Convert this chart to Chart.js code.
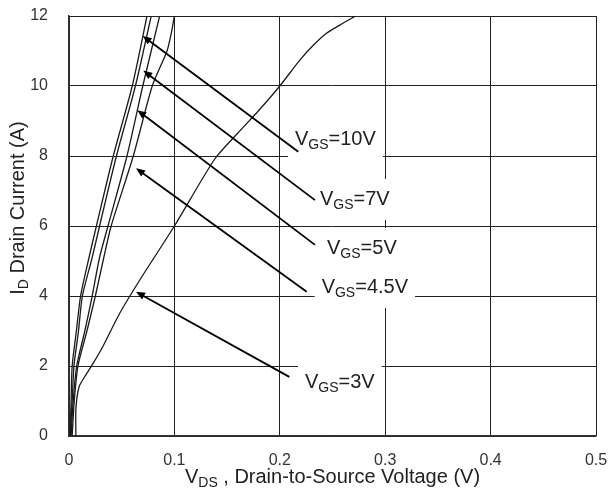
<!DOCTYPE html>
<html><head><meta charset="utf-8">
<script src="https://cdn.jsdelivr.net/npm/chart.js@4/dist/chart.umd.min.js"></script>
<style>html,body{margin:0;padding:0;background:#fff}#wrap{width:612px;height:498px}</style>
</head><body><div id="wrap"><canvas id="c" width="612" height="498"></canvas></div>
<script>
// ---- data (VDS in V, ID in A) ----
const vgsNames = ['10V', '7V', '5V', '4.5V', '3V'];
const vds_10V = [0.001, 0.002, 0.003, 0.007, 0.011, 0.019, 0.026, 0.042, 0.060, 0.074];
const id_10V  = [0, 1, 2, 3, 4, 5.1, 6, 8, 10, 12];
const vds_7V  = [0.001, 0.003, 0.0047, 0.009, 0.0127, 0.022, 0.029, 0.045, 0.063, 0.078];
const id_7V   = [0, 1, 2, 3, 4, 5.1, 6, 8, 10, 12];
const vds_5V  = [0.002, 0.004, 0.0073, 0.015, 0.022, 0.029, 0.037, 0.055, 0.070, 0.086];
const id_5V   = [0, 1, 2, 3, 4, 5.1, 6, 8, 10, 12];
const vds_45V = [0.003, 0.005, 0.0085, 0.017, 0.025, 0.033, 0.040, 0.061, 0.079, 0.093, 0.097, 0.100];
const id_45V  = [0, 1, 2, 3, 4, 5.1, 6, 8, 10, 11, 11.5, 12];
const vds_3V  = [0.0065, 0.0066, 0.0095, 0.015, 0.022, 0.032, 0.048, 0.067, 0.100, 0.138, 0.160, 0.180, 0.200, 0.219, 0.232, 0.244, 0.257, 0.272];
const id_3V   = [0, 0.8, 1.4, 1.7, 2.03, 2.55, 3.5, 4.45, 6, 7.9, 8.65, 9.3, 10, 10.74, 11.17, 11.5, 11.74, 12];
const xTicks = [0, 0.1, 0.2, 0.3, 0.4, 0.5];
const yTicks = [0, 2, 4, 6, 8, 10, 12];

// annotation anchors in data units (arrow tip, arrow tail, label baseline start)
const tipX  = [0.0699, 0.0705, 0.0648, 0.0636, 0.0636];
const tipY  = [11.43, 10.44, 9.31, 7.65, 4.12];
const tailX = [0.2175, 0.2334, 0.2334, 0.2255, 0.209];
const tailY = [8.12, 6.74, 5.46, 4.12, 1.69];
const lblX  = [0.2144, 0.2381, 0.2448, 0.2397, 0.2239];
const lblY  = [8.31, 6.6, 5.2, 4.086, 1.371];

const seriesX = [vds_10V, vds_7V, vds_5V, vds_45V, vds_3V];
const seriesY = [id_10V, id_7V, id_5V, id_45V, id_3V];

const FONT = "'Liberation Sans', Arial, sans-serif";
const TXT = '#222';

function pts(xs, ys) { return xs.map((x, i) => ({x: x, y: ys[i]})); }

function drawSubText(ctx, x, y, parts) {
  let cx = x;
  for (const [t, s, dy] of parts) {
    ctx.font = s + 'px ' + FONT;
    ctx.fillText(t, cx, y + dy);
    cx += ctx.measureText(t).width;
  }
  return cx - x;
}
function measureParts(ctx, parts) {
  let w = 0;
  for (const [t, s] of parts) { ctx.font = s + 'px ' + FONT; w += ctx.measureText(t).width; }
  return w;
}
function labelParts(i) { return [['V', 20, 0], ['GS', 14, 4], ['=' + vgsNames[i], 20, 0]]; }

const annot = {
  id: 'annot',
  beforeDatasetsDraw(chart) {
    const {ctx, scales: {x, y}} = chart;
    ctx.save();
    ctx.fillStyle = '#fff';
    for (let i = 0; i < vgsNames.length; i++) {
      const px = x.getPixelForValue(lblX[i]), py = y.getPixelForValue(lblY[i]);
      const w = measureParts(ctx, labelParts(i));
      ctx.fillRect(px - 7, py - 26, w + 14, 41);
    }
    ctx.restore();
  },
  afterDatasetsDraw(chart) {
    const {ctx, scales: {x, y}} = chart;
    ctx.save();
    for (let i = 0; i < vgsNames.length; i++) {
      const x1 = x.getPixelForValue(tailX[i]), y1 = y.getPixelForValue(tailY[i]);
      const x2 = x.getPixelForValue(tipX[i]), y2 = y.getPixelForValue(tipY[i]);
      const a = Math.atan2(y2 - y1, x2 - x1);
      const L = 9, W = 3.8;
      ctx.strokeStyle = '#000'; ctx.lineWidth = 1.8;
      ctx.beginPath(); ctx.moveTo(x1, y1);
      ctx.lineTo(x2 - Math.cos(a) * (L - 1), y2 - Math.sin(a) * (L - 1)); ctx.stroke();
      ctx.fillStyle = '#000';
      ctx.beginPath();
      ctx.moveTo(x2, y2);
      ctx.lineTo(x2 - Math.cos(a) * L - Math.sin(a) * W, y2 - Math.sin(a) * L + Math.cos(a) * W);
      ctx.lineTo(x2 - Math.cos(a) * L + Math.sin(a) * W, y2 - Math.sin(a) * L - Math.cos(a) * W);
      ctx.closePath(); ctx.fill();
      ctx.fillStyle = TXT; ctx.textBaseline = 'alphabetic'; ctx.textAlign = 'left';
      drawSubText(ctx, x.getPixelForValue(lblX[i]), y.getPixelForValue(lblY[i]), labelParts(i));
    }
    ctx.restore();
  },
  afterDraw(chart) {
    const {ctx, chartArea} = chart;
    ctx.save();
    ctx.fillStyle = TXT; ctx.textBaseline = 'alphabetic'; ctx.textAlign = 'left';
    const xp = [['V', 20, 0], ['DS', 14, 4], [' , Drain-to-Source Voltage (V)', 20, 0]];
    const xw = measureParts(ctx, xp);
    const xc = (chartArea.left + chartArea.right) / 2;
    drawSubText(ctx, xc - xw / 2, 483, xp);
    const yp = [['I', 20, 0], ['D', 14, 4], [' Drain Current (A)', 20, 0]];
    const yw = measureParts(ctx, yp);
    ctx.translate(24, 208);
    ctx.rotate(-Math.PI / 2);
    drawSubText(ctx, -yw / 2, 0, yp);
    ctx.restore();
  }
};

new Chart(document.getElementById('c'), {
  type: 'scatter',
  data: {
    datasets: seriesX.map((xs, i) => ({
      label: 'VGS=' + vgsNames[i],
      data: pts(xs, seriesY[i]),
      showLine: true,
      borderColor: '#1a1a1a',
      borderWidth: 1.3,
      pointRadius: 0,
      tension: 0.25,
      fill: false
    }))
  },
  options: {
    responsive: false,
    animation: false,
    events: [],
    layout: {padding: {top: 16, right: 16, left: 0, bottom: 0}},
    plugins: {legend: {display: false}, tooltip: {enabled: false}},
    scales: {
      x: {
        type: 'linear', min: 0, max: 0.5,
        afterBuildTicks(s) { s.ticks = xTicks.map(v => ({value: v})); },
        afterFit(s) { s.height = 62; s.paddingLeft = 0; s.paddingRight = 0; s.paddingTop = 0; s.paddingBottom = 0; },
        grid: {color: '#222', lineWidth: 1, drawTicks: false},
        border: {color: '#333', width: 1.5},
        ticks: {padding: 15, color: '#333', font: {family: FONT, size: 16}, maxRotation: 0,
                callback: v => String(v)}
      },
      y: {
        type: 'linear', min: 0, max: 12,
        afterBuildTicks(s) { s.ticks = yTicks.map(v => ({value: v})); },
        afterFit(s) { s.width = 69; s.paddingTop = 0; s.paddingBottom = 0; s.paddingLeft = 0; s.paddingRight = 0; },
        grid: {color: '#222', lineWidth: 1, drawTicks: false},
        border: {color: '#333', width: 1.5},
        ticks: {padding: 21, color: '#333', font: {family: FONT, size: 16}}
      }
    }
  },
  plugins: [annot]
});
</script></body></html>
